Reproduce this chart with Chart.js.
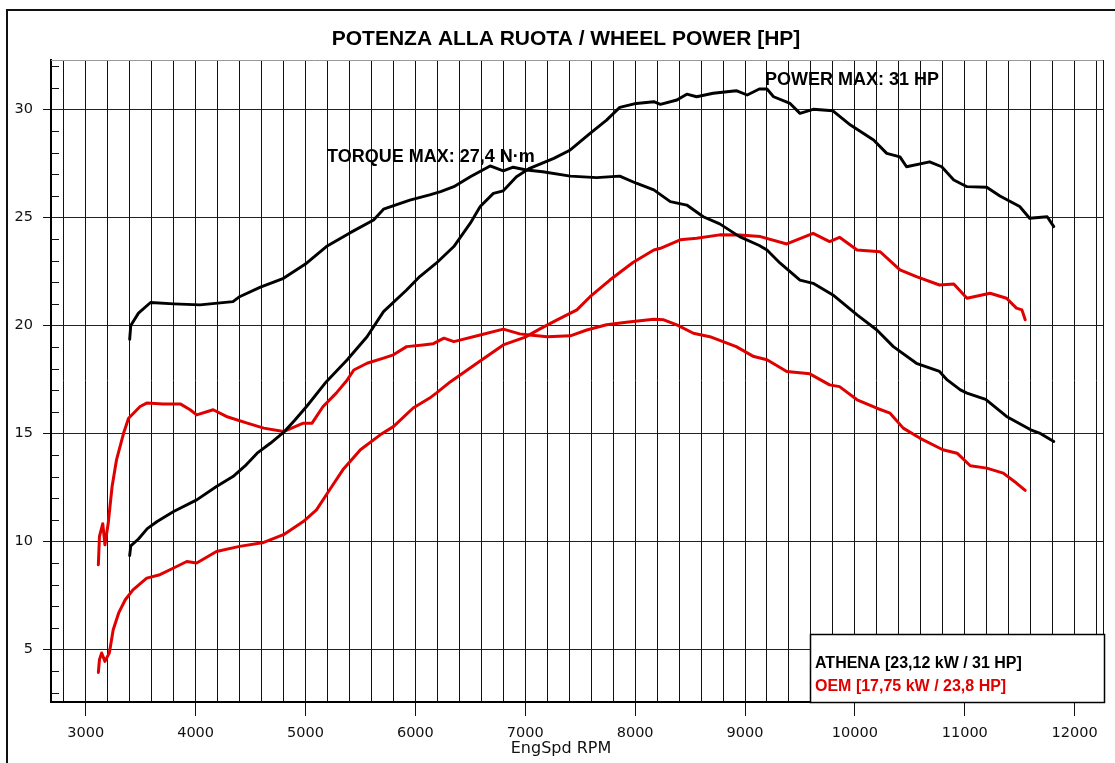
<!DOCTYPE html>
<html>
<head>
<meta charset="utf-8">
<title>Potenza alla ruota</title>
<script src="https://cdn.jsdelivr.net/npm/chart.js@4.4.0/dist/chart.umd.min.js"></script>
<style>
  html, body { margin: 0; padding: 0; background: #fff; }
  #wrap { width: 1115px; height: 763px; }
</style>
</head>
<body>
<div id="wrap"><canvas id="dyno" width="1115" height="763"></canvas></div>
<script>
// values (rpm / HP and rpm / N·m)
const athenaPowerRpm = [3400, 3410, 3480, 3560, 3650, 3800, 4010, 4190, 4340, 4450, 4560, 4680, 4800, 4900, 5010, 5190, 5380, 5560, 5710, 5920, 6040, 6190, 6350, 6500, 6590, 6710, 6800, 6920, 7040, 7260, 7410, 7590, 7740, 7860, 8010, 8170, 8230, 8380, 8470, 8560, 8710, 8920, 9020, 9130, 9200, 9260, 9410, 9500, 9620, 9800, 9960, 10170, 10290, 10410, 10470, 10680, 10790, 10900, 11020, 11200, 11320, 11500, 11590, 11750, 11810];
const athenaPowerHp = [9.35, 9.8, 10.12, 10.6, 10.93, 11.39, 11.93, 12.55, 13.01, 13.5, 14.09, 14.55, 15.05, 15.6, 16.25, 17.4, 18.41, 19.48, 20.64, 21.64, 22.26, 22.88, 23.65, 24.73, 25.5, 26.11, 26.23, 26.88, 27.27, 27.73, 28.12, 28.89, 29.5, 30.09, 30.27, 30.35, 30.23, 30.43, 30.7, 30.58, 30.74, 30.86, 30.66, 30.94, 30.94, 30.58, 30.27, 29.81, 30.0, 29.93, 29.27, 28.58, 27.96, 27.8, 27.34, 27.57, 27.34, 26.73, 26.42, 26.39, 25.99, 25.5, 24.96, 25.03, 24.57];

const athenaTorqueRpm = [3400, 3410, 3480, 3590, 3800, 4040, 4340, 4400, 4590, 4800, 5010, 5190, 5400, 5620, 5710, 5950, 6130, 6230, 6350, 6500, 6680, 6800, 6890, 7010, 7160, 7410, 7650, 7860, 8010, 8170, 8320, 8470, 8620, 8770, 8950, 9130, 9200, 9320, 9500, 9620, 9800, 10020, 10200, 10350, 10560, 10770, 10840, 10960, 11020, 11190, 11380, 11600, 11680, 11810];
const athenaTorqueNm = [19.36, 20.0, 20.57, 21.06, 21.0, 20.95, 21.1, 21.33, 21.77, 22.18, 22.88, 23.65, 24.27, 24.88, 25.38, 25.8, 26.04, 26.19, 26.42, 26.88, 27.38, 27.15, 27.32, 27.19, 27.11, 26.91, 26.84, 26.91, 26.58, 26.27, 25.73, 25.57, 25.03, 24.7, 24.11, 23.7, 23.49, 22.88, 22.1, 21.95, 21.41, 20.49, 19.79, 19.02, 18.25, 17.87, 17.48, 17.02, 16.87, 16.58, 15.79, 15.17, 15.02, 14.63];

const oemPowerRpm = [3115, 3125, 3145, 3175, 3215, 3250, 3300, 3360, 3430, 3555, 3675, 3800, 3920, 4010, 4190, 4400, 4620, 4800, 4980, 5100, 5220, 5340, 5500, 5680, 5800, 5980, 6130, 6190, 6320, 6560, 6800, 7000, 7130, 7290, 7470, 7590, 7770, 7980, 8170, 8230, 8410, 8560, 8770, 8950, 9140, 9380, 9620, 9770, 9860, 10020, 10230, 10410, 10560, 10770, 10900, 11020, 11230, 11380, 11470, 11520, 11550];
const oemPowerHp = [3.95, 4.54, 4.85, 4.46, 4.85, 5.92, 6.7, 7.31, 7.77, 8.31, 8.47, 8.78, 9.08, 9.01, 9.54, 9.78, 9.96, 10.32, 10.93, 11.47, 12.4, 13.32, 14.25, 14.94, 15.32, 16.18, 16.64, 16.87, 17.4, 18.25, 19.1, 19.46, 19.83, 20.26, 20.72, 21.33, 22.1, 22.91, 23.49, 23.57, 23.96, 24.03, 24.19, 24.18, 24.11, 23.77, 24.26, 23.88, 24.08, 23.49, 23.41, 22.57, 22.26, 21.87, 21.92, 21.26, 21.49, 21.26, 20.8, 20.72, 20.26];

const oemTorqueRpm = [3115, 3125, 3155, 3175, 3205, 3240, 3280, 3345, 3390, 3495, 3555, 3705, 3860, 3950, 4010, 4160, 4280, 4470, 4620, 4800, 4980, 5060, 5160, 5280, 5380, 5440, 5560, 5710, 5800, 5920, 6070, 6160, 6260, 6350, 6590, 6800, 6950, 7040, 7200, 7410, 7560, 7740, 7920, 8170, 8260, 8380, 8530, 8680, 8920, 9080, 9200, 9380, 9590, 9770, 9860, 10020, 10200, 10320, 10440, 10590, 10800, 10930, 11050, 11200, 11350, 11470, 11550];
const oemTorqueNm = [8.93, 10.24, 10.83, 9.85, 10.86, 12.55, 13.78, 15.02, 15.71, 16.25, 16.41, 16.37, 16.37, 16.1, 15.86, 16.1, 15.79, 15.48, 15.25, 15.09, 15.48, 15.48, 16.25, 16.87, 17.48, 17.94, 18.25, 18.49, 18.64, 19.02, 19.1, 19.15, 19.41, 19.25, 19.56, 19.83, 19.61, 19.56, 19.48, 19.52, 19.79, 20.03, 20.15, 20.29, 20.26, 20.03, 19.64, 19.48, 19.02, 18.56, 18.41, 17.87, 17.76, 17.25, 17.17, 16.56, 16.17, 15.94, 15.25, 14.79, 14.25, 14.09, 13.51, 13.4, 13.17, 12.71, 12.37];

// axis ranges and tick spacing
const rpmMin = 2684, rpmMax = 12267;
const rpmGridStart = 2800, rpmGridEnd = 12200, rpmStep = 200, rpmLabelStep = 1000;
const valMin = 2.58, valMax = 32.28;
const valGridStart = 3, valGridEnd = 32, valStep = 1, valLabelStep = 5;

const chartTitle = 'POTENZA ALLA RUOTA / WHEEL POWER [HP]';
const xTitle = 'EngSpd RPM';
const powerNote = 'POWER MAX: 31 HP';
const torqueNote = 'TORQUE MAX: 27,4 N\u00b7m';
const legendItems = [
  { text: 'ATHENA [23,12 kW / 31 HP]', color: '#000000' },
  { text: 'OEM [17,75 kW / 23,8 HP]', color: '#e00000' }
];

const BLACK = '#000000';
const RED = '#e00000';

function toPoints(xs, ys) {
  return xs.map((x, i) => ({ x: x, y: ys[i] }));
}

function tickList(start, end, step) {
  const out = [];
  for (let v = start; v <= end; v += step) out.push({ value: v });
  return out;
}

const isMajor = (v, step) => Math.abs(v / step - Math.round(v / step)) < 1e-6;

const sheetDecor = {
  id: 'sheetDecor',
  beforeDraw(chart) {
    const ctx = chart.ctx;
    ctx.save();
    ctx.fillStyle = '#fff';
    ctx.fillRect(0, 0, chart.width, chart.height);
    ctx.restore();
  },
  afterDraw(chart) {
    const ctx = chart.ctx;
    const a = chart.chartArea;
    const y = chart.scales.y;
    ctx.save();

    // outer frame
    ctx.strokeStyle = '#111';
    ctx.lineWidth = 2;
    ctx.beginPath();
    ctx.moveTo(7, chart.height + 5);
    ctx.lineTo(7, 10);
    ctx.lineTo(chart.width + 5, 10);
    ctx.stroke();

    // plot box top / right
    ctx.lineWidth = 1;
    ctx.strokeStyle = '#999';
    ctx.beginPath();
    ctx.moveTo(a.left, a.top + 0.5);
    ctx.lineTo(a.right, a.top + 0.5);
    ctx.stroke();
    ctx.strokeStyle = '#111';
    ctx.beginPath();
    ctx.moveTo(a.right - 0.5, a.top);
    ctx.lineTo(a.right - 0.5, a.bottom);
    ctx.stroke();

    // minor ticks inside the left axis
    ctx.strokeStyle = '#111';
    ctx.beginPath();
    for (let v = valGridStart; v <= valGridEnd; v += valStep) {
      if (isMajor(v, valLabelStep)) continue;
      const py = Math.round(y.getPixelForValue(v)) + 0.5;
      ctx.moveTo(a.left, py);
      ctx.lineTo(a.left + 8, py);
    }
    ctx.stroke();

    // title
    ctx.fillStyle = '#000';
    ctx.textAlign = 'center';
    ctx.textBaseline = 'alphabetic';
    ctx.font = 'bold 21px "Liberation Sans", Arial, sans-serif';
    ctx.fillText(chartTitle, 566, 45);

    // max notes
    ctx.textAlign = 'left';
    ctx.font = 'bold 18px "Liberation Sans", Arial, sans-serif';
    ctx.fillText(powerNote, 765, 85);
    ctx.fillText(torqueNote, 327, 162);

    // legend box
    const lx = 810, ly = 634, lw = a.right - 810, lh = a.bottom - 634;
    ctx.fillStyle = '#fff';
    ctx.fillRect(lx, ly, lw, lh);
    ctx.strokeStyle = '#000';
    ctx.lineWidth = 1.5;
    ctx.strokeRect(lx + 0.5, ly + 0.5, lw, lh);
    ctx.font = 'bold 16px "Liberation Sans", Arial, sans-serif';
    legendItems.forEach((item, i) => {
      ctx.fillStyle = item.color;
      ctx.fillText(item.text, 815, 668 + i * 22.5);
    });

    // x axis title
    ctx.fillStyle = '#111';
    ctx.textAlign = 'center';
    ctx.font = '16px "DejaVu Sans", Verdana, sans-serif';
    ctx.fillText(xTitle, 561, 753);

    ctx.restore();
  }
};

const ctx = document.getElementById('dyno').getContext('2d');
const dynoChart = new Chart(ctx, {
  type: 'line',
  data: {
    datasets: [
      { label: 'Athena power', data: toPoints(athenaPowerRpm, athenaPowerHp), borderColor: BLACK, borderWidth: 2.9 },
      { label: 'Athena torque', data: toPoints(athenaTorqueRpm, athenaTorqueNm), borderColor: BLACK, borderWidth: 2.9 },
      { label: 'OEM power', data: toPoints(oemPowerRpm, oemPowerHp), borderColor: RED, borderWidth: 3 },
      { label: 'OEM torque', data: toPoints(oemTorqueRpm, oemTorqueNm), borderColor: RED, borderWidth: 3 }
    ]
  },
  options: {
    responsive: false,
    animation: false,
    devicePixelRatio: 1,
    layout: { padding: { top: 60, right: 11, bottom: 0, left: 0 } },
    elements: {
      point: { radius: 0 },
      line: { tension: 0, fill: false, borderJoinStyle: 'round', borderCapStyle: 'round' }
    },
    plugins: {
      legend: { display: false },
      tooltip: { enabled: false },
      title: { display: false }
    },
    scales: {
      x: {
        type: 'linear',
        bounds: 'ticks',
        min: rpmMin,
        max: rpmMax,
        afterBuildTicks: s => { s.ticks = tickList(rpmGridStart, rpmGridEnd, rpmStep); },
        afterFit: s => { s.height = 61; },
        ticks: {
          autoSkip: false,
          maxRotation: 0,
          minRotation: 0,
          padding: 9,
          color: '#111',
          font: { family: '"DejaVu Sans", Verdana, sans-serif', size: 14.5 },
          callback: v => (isMajor(v, rpmLabelStep) ? String(Math.round(v)) : '')
        },
        grid: {
          color: '#111',
          lineWidth: 1,
          tickLength: 14,
          tickColor: c => (c.tick && isMajor(c.tick.value, rpmLabelStep) ? '#111' : 'rgba(0,0,0,0)')
        },
        border: { color: '#000', width: 2 }
      },
      y: {
        type: 'linear',
        bounds: 'ticks',
        min: valMin,
        max: valMax,
        afterBuildTicks: s => { s.ticks = tickList(valGridStart, valGridEnd, valStep); },
        afterFit: s => { s.width = 51; },
        ticks: {
          autoSkip: false,
          padding: 10,
          color: '#111',
          font: { family: '"DejaVu Sans", Verdana, sans-serif', size: 14.5 },
          callback: v => (isMajor(v, valLabelStep) ? String(Math.round(v)) : '')
        },
        grid: {
          color: c => (c.tick && isMajor(c.tick.value, valLabelStep) ? '#222' : 'rgba(0,0,0,0)'),
          lineWidth: 1,
          tickLength: 8,
          tickColor: c => (c.tick && isMajor(c.tick.value, valLabelStep) ? '#111' : 'rgba(0,0,0,0)')
        },
        border: { color: '#000', width: 2 }
      }
    }
  },
  plugins: [sheetDecor]
});
</script>
</body>
</html>
